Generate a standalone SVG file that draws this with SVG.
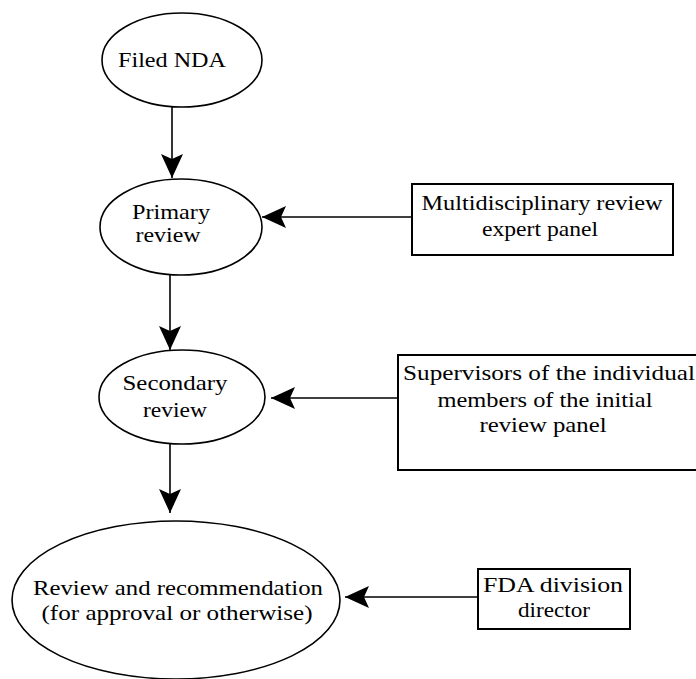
<svg xmlns="http://www.w3.org/2000/svg" width="696" height="679" viewBox="0 0 696 679">
<style>
.node ellipse{fill:#fff;stroke:#000;stroke-width:1.6}
.node rect{fill:#fff;stroke:#000;stroke-width:2}
text{font-family:"Liberation Serif","Times New Roman",serif;font-size:22px;fill:#000;text-anchor:middle}
.conn line{stroke:#000;stroke-width:1.6;marker-end:url(#ah)}
</style>
<defs>
<marker id="ah" viewBox="0 0 24 22" refX="24" refY="11" markerWidth="24" markerHeight="22" markerUnits="userSpaceOnUse" orient="auto">
<path d="M0,0 L24,11 L0,22 L5,11 Z" fill="#000"/>
</marker>
</defs>
<g id="n1" class="node">
<ellipse cx="182" cy="60" rx="80" ry="47"/>
<text x="172" y="67" textLength="108" lengthAdjust="spacingAndGlyphs">Filed NDA</text>
</g>
<g id="n2" class="node">
<ellipse cx="181" cy="227" rx="81" ry="48"/>
<text x="171" y="219" textLength="78" lengthAdjust="spacingAndGlyphs">Primary</text>
<text x="168" y="242" textLength="65" lengthAdjust="spacingAndGlyphs">review</text>
</g>
<g id="n3" class="node">
<ellipse cx="182" cy="397" rx="83" ry="47"/>
<text x="175" y="390" textLength="105" lengthAdjust="spacingAndGlyphs">Secondary</text>
<text x="175" y="417" textLength="64" lengthAdjust="spacingAndGlyphs">review</text>
</g>
<g id="n4" class="node">
<ellipse cx="176" cy="600" rx="164" ry="79"/>
<text x="178" y="595" textLength="290" lengthAdjust="spacingAndGlyphs">Review and recommendation</text>
<text x="177" y="620" textLength="271" lengthAdjust="spacingAndGlyphs">(for approval or otherwise)</text>
</g>
<g id="b1" class="node">
<rect x="412" y="184" width="261" height="71"/>
<text x="542" y="210" textLength="241" lengthAdjust="spacingAndGlyphs">Multidisciplinary review</text>
<text x="540" y="236" textLength="116" lengthAdjust="spacingAndGlyphs">expert panel</text>
</g>
<g id="b2" class="node">
<rect x="398" y="355" width="310" height="115"/>
<text x="549" y="380" textLength="292" lengthAdjust="spacingAndGlyphs">Supervisors of the individual</text>
<text x="545" y="407" textLength="215" lengthAdjust="spacingAndGlyphs">members of the initial</text>
<text x="543" y="432" textLength="127" lengthAdjust="spacingAndGlyphs">review panel</text>
</g>
<g id="b3" class="node">
<rect x="478" y="569" width="152" height="60"/>
<text x="553" y="592" textLength="140" lengthAdjust="spacingAndGlyphs">FDA division</text>
<text x="554" y="617" textLength="72" lengthAdjust="spacingAndGlyphs">director</text>
</g>
<g id="connectors" class="conn">
<line x1="172" y1="107" x2="172" y2="178"/>
<line x1="170" y1="275" x2="170" y2="350"/>
<line x1="170" y1="444" x2="170" y2="513"/>
<line x1="412" y1="217" x2="262" y2="217"/>
<line x1="398" y1="398" x2="271" y2="398"/>
<line x1="478" y1="597" x2="345" y2="597"/>
</g>
</svg>
